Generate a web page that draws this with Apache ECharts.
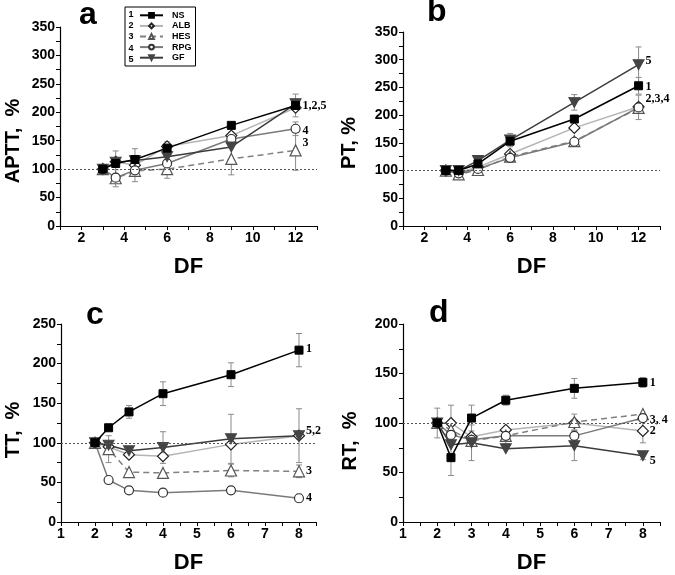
<!DOCTYPE html>
<html><head><meta charset="utf-8">
<script src="https://cdn.jsdelivr.net/npm/echarts@6/dist/echarts.min.js"></script>
<style>html,body{margin:0;padding:0;background:#fff}#c{width:675px;height:575px}</style>
</head><body><div id="c"></div>
<script>
const seriesNames = ['NS', 'ALB', 'HES', 'RPG', 'GF'];
const seriesNumbers = ['1', '2', '3', '4', '5'];

// Panel a: APTT
const xAPTT = [3, 3.6, 4.5, 6, 9, 12];
const aptt_NS  = [100, 110, 117, 137, 177, 212];
const aptt_ALB = [100, 113, 107, 140, 159, 208];
const aptt_HES = [100, 84, 97, 100, 118, 133];
const aptt_RPG = [100, 85, 98, 110, 153, 171];
const aptt_GF  = [100, 112, 115, 122, 139, 215];
const aptt_NS_err  = [0, 0, 19, 0, 0, 20];
const aptt_ALB_err = [0, 0, 0, 8, 5, 0];
const aptt_HES_err = [0, 15, 0, 16, 28, 35];
const aptt_RPG_err = [0, 0, 20, 0, 0, 12];
const aptt_GF_err  = [0, 20, 0, 0, 0, 0];

// Panel b: PT
const xPT = [3, 3.6, 4.5, 6, 9, 12];
const pt_NS  = [100, 100, 112, 153, 193, 253];
const pt_ALB = [100, 97, 106, 130, 177, 215];
const pt_HES = [100, 93, 101, 125, 153, 213];
const pt_RPG = [100, 95, 103, 123, 152, 214];
const pt_GF  = [100, 100, 118, 155, 223, 291];
const pt_NS_err  = [0, 0, 0, 0, 0, 15];
const pt_ALB_err = [0, 0, 0, 0, 0, 0];
const pt_HES_err = [0, 0, 0, 0, 0, 0];
const pt_RPG_err = [0, 0, 0, 0, 0, 22];
const pt_GF_err  = [0, 0, 5, 12, 14, 32];

// Panel c: TT
const xTT = [2, 2.4, 3, 4, 6, 8];
const tt_NS  = [100, 119, 139, 162, 186, 217];
const tt_ALB = [100, 95, 85, 83, 98, 109];
const tt_HES = [100, 92, 63, 62, 65, 64];
const tt_RPG = [100, 53, 40, 37, 40, 30];
const tt_GF  = [100, 97, 90, 94, 105, 109];
const tt_NS_err  = [0, 0, 8, 15, 15, 21];
const tt_ALB_err = [0, 0, 0, 0, 0, 34];
const tt_HES_err = [0, 17, 0, 0, 8, 8];
const tt_RPG_err = [0, 0, 0, 0, 0, 5];
const tt_GF_err  = [0, 0, 0, 20, 31, 0];

// Panel d: RT
const xRT = [2, 2.4, 3, 4, 6, 8];
const rt_NS  = [100, 65, 105, 123, 135, 141];
const rt_ALB = [100, 100, 86, 93, 100, 92];
const rt_HES = [100, 93, 82, 87, 101, 109];
const rt_RPG = [100, 88, 83, 87, 87, 105];
const rt_GF  = [100, 78, 80, 74, 77, 67];
const rt_NS_err  = [15, 18, 13, 5, 10, 5];
const rt_ALB_err = [0, 18, 0, 0, 0, 12];
const rt_HES_err = [0, 0, 0, 8, 8, 0];
const rt_RPG_err = [0, 0, 0, 0, 5, 0];
const rt_GF_err  = [0, 0, 18, 0, 15, 4];

// Axis tick labels
const xTicksAB = [2, 4, 6, 8, 10, 12];
const xTicksCD = [1, 2, 3, 4, 5, 6, 7, 8];
const panelLetters = ['a', 'b', 'c', 'd'];
const yTitles = ['APTT,  %', 'PT, %', 'TT,  %', 'RT,  %'];
const xTitle = 'DF';

const panels = [
  { xs: xAPTT, vals: [aptt_NS, aptt_ALB, aptt_HES, aptt_RPG, aptt_GF], errs: [aptt_NS_err, aptt_ALB_err, aptt_HES_err, aptt_RPG_err, aptt_GF_err],
    yMax: 350, xMin: 1, xMax: 13, xInt: 1, xTicks: xTicksAB,
    grid: {left: 60, top: 27, width: 257, height: 199},
    ann: {0: ['1,2,5', 0], 3: ['4', 2], 2: ['3', -7]} },
  { xs: xPT, vals: [pt_NS, pt_ALB, pt_HES, pt_RPG, pt_GF], errs: [pt_NS_err, pt_ALB_err, pt_HES_err, pt_RPG_err, pt_GF_err],
    yMax: 350, xMin: 1, xMax: 13, xInt: 1, xTicks: xTicksAB,
    grid: {left: 403, top: 32, width: 257, height: 194},
    ann: {4: ['5', -4], 0: ['1', 1], 3: ['2,3,4', -8]} },
  { xs: xTT, vals: [tt_NS, tt_ALB, tt_HES, tt_RPG, tt_GF], errs: [tt_NS_err, tt_ALB_err, tt_HES_err, tt_RPG_err, tt_GF_err],
    yMax: 250, xMin: 1, xMax: 8.5, xInt: 0.5, xTicks: xTicksCD,
    grid: {left: 61, top: 324, width: 255, height: 200},
    ann: {0: ['1', -1], 4: ['5,2', -5], 2: ['3', 0], 3: ['4', 0]} },
  { xs: xRT, vals: [rt_NS, rt_ALB, rt_HES, rt_RPG, rt_GF], errs: [rt_NS_err, rt_ALB_err, rt_HES_err, rt_RPG_err, rt_GF_err],
    yMax: 200, xMin: 1, xMax: 8.5, xInt: 0.5, xTicks: xTicksCD,
    grid: {left: 403, top: 324, width: 257, height: 200},
    ann: {0: ['1', 0], 3: ['3, 4', 2], 1: ['2', 0], 4: ['5', 5]} }
];

const FONT = 'Liberation Sans, Arial, sans-serif';
const downTri = 'path://M0,0 L10,0 L5,9 Z';
const styles = [
  { symbol: 'rect', size: 8, line: {color: '#000', width: 1.5}, item: {color: '#000', borderColor: '#000', borderWidth: 1} },
  { symbol: 'diamond', size: 11, line: {color: '#b4b4b4', width: 1.5}, item: {color: '#fff', borderColor: '#222', borderWidth: 1.2} },
  { symbol: 'triangle', size: 11, line: {color: '#808080', width: 1.5, type: [6, 4]}, item: {color: '#fff', borderColor: '#555', borderWidth: 1.2} },
  { symbol: 'circle', size: 9, line: {color: '#7a7a7a', width: 1.5}, item: {color: '#fff', borderColor: '#333', borderWidth: 1.2} },
  { symbol: downTri, size: [11, 10], line: {color: '#3c3c3c', width: 1.5}, item: {color: '#444', borderColor: '#444', borderWidth: 1} }
];

function renderErr(params, api) {
  const x = api.value(0), y = api.value(1), e = api.value(2);
  const hi = api.coord([x, y + e]), lo = api.coord([x, y - e]);
  const w = 3;
  const st = {stroke: '#8a8a8a', lineWidth: 1};
  return {type: 'group', children: [
    {type: 'line', shape: {x1: hi[0], y1: hi[1], x2: lo[0], y2: lo[1]}, style: st},
    {type: 'line', shape: {x1: hi[0] - w, y1: hi[1], x2: hi[0] + w, y2: hi[1]}, style: st},
    {type: 'line', shape: {x1: lo[0] - w, y1: lo[1], x2: lo[0] + w, y2: lo[1]}, style: st}
  ]};
}

const grid = [], xAxis = [], yAxis = [], series = [], graphic = [];
panels.forEach((p, pi) => {
  grid.push(Object.assign({containLabel: false}, p.grid));
  xAxis.push({
    gridIndex: pi, type: 'value', min: p.xMin, max: p.xMax, interval: p.xInt,
    name: xTitle, nameLocation: 'middle', nameGap: 30,
    nameTextStyle: {fontSize: 22, fontWeight: 'bold', color: '#000', fontFamily: FONT},
    axisLine: {show: true, onZero: false, lineStyle: {color: '#000', width: 1.2}},
    axisTick: {show: true, length: 4, lineStyle: {color: '#000', width: 1}},
    axisLabel: {fontSize: 14, fontWeight: 'bold', color: '#000', fontFamily: FONT, margin: 5,
      formatter: v => (p.xTicks.indexOf(v) >= 0 ? String(v) : '')},
    splitLine: {show: false}
  });
  yAxis.push({
    gridIndex: pi, type: 'value', min: 0, max: p.yMax, interval: 25,
    axisLine: {show: true, onZero: false, lineStyle: {color: '#000', width: 1.2}},
    axisTick: {show: true, length: 4, lineStyle: {color: '#000', width: 1}},
    axisLabel: {fontSize: 14, fontWeight: 'bold', color: '#000', fontFamily: FONT, margin: 5,
      formatter: v => (v % 50 === 0 ? String(v) : '')},
    splitLine: {show: false}
  });
  const errData = [];
  p.vals.forEach((vals, si) => {
    vals.forEach((v, i) => { if (p.errs[si][i] > 0) errData.push([p.xs[i], v, p.errs[si][i]]); });
  });
  series.push({type: 'custom', xAxisIndex: pi, yAxisIndex: pi, renderItem: renderErr,
    encode: {x: 0, y: 1}, data: errData, z: 1, silent: true});
  p.vals.forEach((vals, si) => {
    const st = styles[si];
    const s = {
      type: 'line', name: seriesNames[si], xAxisIndex: pi, yAxisIndex: pi,
      data: p.xs.map((x, i) => [x, vals[i]]),
      symbol: st.symbol, symbolSize: st.size, showAllSymbol: true,
      lineStyle: st.line, itemStyle: st.item, z: 3 + (si === 0 ? 2 : 0)
    };
    if (p.ann[si]) {
      s.endLabel = {show: true, formatter: p.ann[si][0], distance: 7, offset: [0, p.ann[si][1]],
        fontSize: 12, fontWeight: 'bold', color: '#000', fontFamily: 'Liberation Serif, Times New Roman, serif'};
    }
    if (si === 0) {
      s.markLine = {silent: true, symbol: 'none', label: {show: false},
        lineStyle: {type: [2, 2], color: '#555', width: 1}, data: [{yAxis: 100}]};
    }
    series.push(s);
  });
});

const letterPos = [[88, 16], [436, 13], [95, 316], [438, 314]];
const yTitlePos = [[13, 141], [349, 143], [13, 430], [350, 441]];
panels.forEach((p, pi) => {
  graphic.push({type: 'text', left: letterPos[pi][0] - 9, top: letterPos[pi][1] - 17,
    style: {text: panelLetters[pi], font: 'bold 32px ' + FONT, fill: '#000'}});
  graphic.push({type: 'text', x: yTitlePos[pi][0], y: yTitlePos[pi][1], rotation: Math.PI / 2,
    style: {text: yTitles[pi], font: 'bold 20px ' + FONT, fill: '#000',
      align: 'center', verticalAlign: 'middle', textAlign: 'center', textVerticalAlign: 'middle'}});
});
seriesNumbers.forEach((n, i) => {
  graphic.push({type: 'text', x: 131, y: 14.5 + i * 11.2,
    style: {text: n, font: 'bold 9px ' + FONT, fill: '#000', align: 'center', verticalAlign: 'middle',
      textAlign: 'center', textVerticalAlign: 'middle'}});
});

const chart = echarts.init(document.getElementById('c'), null, {renderer: 'canvas'});
chart.setOption({
  animation: false,
  backgroundColor: '#fff',
  grid, xAxis, yAxis, series, graphic,
  legend: {
    data: seriesNames, orient: 'vertical', left: 125, top: 7,
    padding: [3, 4, 3, 14], itemGap: 0, itemWidth: 23, itemHeight: 6,
    borderColor: '#000', borderWidth: 1,
    textStyle: {fontSize: 9, fontWeight: 'bold', color: '#000', fontFamily: FONT, lineHeight: 10.6, padding: [0, 0, 0, 4]}
  }
});
</script>
</body></html>
